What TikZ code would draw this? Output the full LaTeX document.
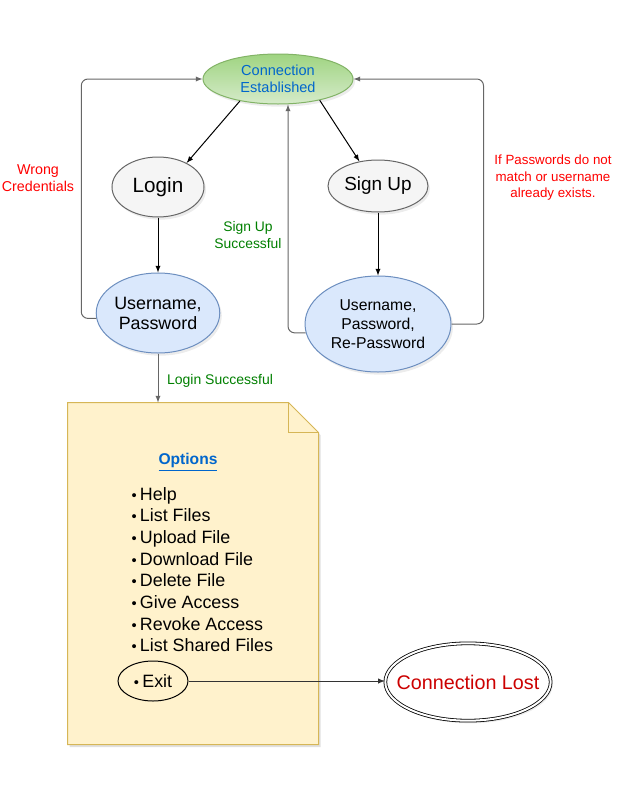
\documentclass[tikz,border=0pt]{standalone}
\usepackage{fontspec}
\setmainfont{Liberation Sans}
\usetikzlibrary{shapes.geometric,shadows}
\definecolor{edgegray}{HTML}{666666}
\definecolor{textred}{HTML}{FF0000}
\definecolor{lostred}{HTML}{CC0000}
\definecolor{okgreen}{HTML}{007F00}
\definecolor{linkblue}{HTML}{0066CC}
\definecolor{notefill}{HTML}{FFF2CC}
\definecolor{notedraw}{HTML}{D6B656}
\definecolor{bluefill}{HTML}{DAE8FC}
\definecolor{bluedraw}{HTML}{6C8EBF}
\definecolor{greydraw}{HTML}{666666}
\definecolor{greyfill}{HTML}{F5F5F5}
\newcommand{\fs}[2]{\fontsize{#1}{#2}\selectfont}
\newcommand{\bul}{{\fs{11}{11}•}\hspace{2.5pt}}
\begin{document}
\begin{tikzpicture}[x=0.75pt,y=-0.75pt,>=latex,line width=0.75pt,
  shade/.style={drop shadow={opacity=0.15,shadow xshift=1.5pt,shadow yshift=-2pt}},
  state/.style={ellipse,draw=greydraw,fill=greyfill,inner sep=0pt,align=center,shade},
  cred/.style={ellipse,draw=bluedraw,fill=bluefill,inner sep=0pt,align=center,shade},
  edge/.style={->,draw=edgegray,rounded corners=5pt},
  item/.style={anchor=base west,inner sep=0pt,font=\fs{13.4}{16}}]
\useasboundingbox (0,0) rectangle (639,807);

\node[ellipse,draw={rgb,255:red,130;green,179;blue,102},top color={rgb,255:red,159;green,212;blue,129},
  bottom color={rgb,255:red,214;green,235;blue,202},minimum width=112.5pt,minimum height=37.5pt,
  inner sep=0pt,align=center,text=linkblue,font=\fs{10.9}{13},shade] (ce) at (278,79) {Connection\\Established};
\node[state,minimum width=69pt,minimum height=45pt,font=\fs{15.5}{18}] (login) at (158,187) {Login};
\node[state,minimum width=75pt,minimum height=39pt,font=\fs{14.2}{17}] (signup) at (378,186) {Sign Up};
\node[cred,minimum width=90pt,minimum height=60pt,font=\fs{13.4}{15}] (upl) at (158,313) {Username,\\Password};
\node[cred,minimum width=109.5pt,minimum height=72pt,font=\fs{11.8}{14.5}] (upr) at (378,324) {Username,\\Password,\\Re-Password};

% options note
\node[minimum width=187.5pt,minimum height=255.75pt,inner sep=0pt] (opts) at (193,573.5) {};
\fill[black,opacity=0.12] ([shift={(1.5pt,-2pt)}]opts.north west) -- ([shift={(-21pt,-2pt)}]opts.north east)
  -- ([shift={(1.5pt,-24.5pt)}]opts.north east) -- ([shift={(1.5pt,-2pt)}]opts.south east)
  -- ([shift={(1.5pt,-2pt)}]opts.south west) -- cycle;
\draw[draw=notedraw,fill=notefill] (opts.north west) -- ([xshift=-22.5pt]opts.north east)
  -- ([yshift=-22.5pt]opts.north east) -- (opts.south east) -- (opts.south west) -- cycle;
\draw[draw=notedraw] ([xshift=-22.5pt]opts.north east) -- ([shift={(-22.5pt,-22.5pt)}]opts.north east)
  -- ([yshift=-22.5pt]opts.north east);
\node[text=linkblue,font=\fs{11.7}{14}\bfseries] (optitle) at (188,462) {\underline{Options}};
\foreach \t [count=\i from 0] in {Help,List Files,Upload File,Download File,Delete File,Give Access,Revoke Access,List Shared Files}
  \node[item] (it\i) at (131,500+21.67*\i) {\bul\t};
\node[ellipse,draw,minimum width=52.5pt,minimum height=30pt,inner sep=0pt,font=\fs{13.4}{16}] (exitn) at (153,681) {\makebox[0pt]{\bul Exit}};

\node[ellipse,draw,fill=white,double,double distance=1.5pt,line width=0.6pt,minimum width=124pt,minimum height=58pt,
  inner sep=0pt,text=lostred,font=\fs{14.8}{17},shade] (lost) at (468,682) {\makebox[0pt]{Connection Lost}};

% connectors
\draw[->] (ce.210) -- (login.40);
\draw[->] (ce.-27) -- (signup.127);
\draw[->] (login) -- (upl);
\draw[->] (signup) -- (upr);
\draw[->,draw=edgegray] (upl) -- (opts.north -| upl);
\draw[edge] (upl.185) -- ++(-15,0) |- (ce.west);
\draw[edge] (upr.187) -| ([xshift=7.5pt]ce.south);
\draw[edge] (upr.east) -- ++(32,0) |- (ce.east);
\draw[->,draw=black!80] (exitn.east) -- (exitn.east -| lost.west);

% edge labels
\node[text=textred,align=center,font=\fs{10.7}{12.75}] (wrong) at (38,178) {Wrong\\Credentials};
\node[text=okgreen,align=center,font=\fs{10.4}{12.5}] (suok) at (248,235) {Sign Up\\Successful};
\node[text=textred,align=center,font=\fs{10}{12.4}] (nomatch) at (553,178) {If Passwords do not\\match or username\\already exists.};
\node[text=okgreen,font=\fs{10.5}{12.5}] (loginok) at (220,381) {Login Successful};
\end{tikzpicture}
\end{document}
